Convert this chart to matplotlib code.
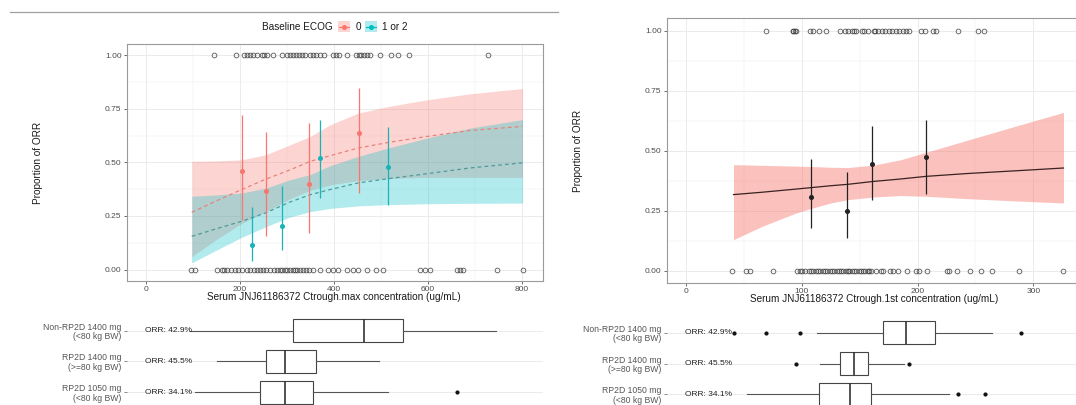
import matplotlib

matplotlib.use("Agg")
import matplotlib.pyplot as plt
from matplotlib.lines import Line2D
from matplotlib.patches import Rectangle
import numpy as np

plt.rcParams["font.family"] = ["Liberation Sans", "DejaVu Sans"]

W, H = 1076, 405

RED = "#F8766D"
TEAL = "#00BFC4"
GRID = "#ebebeb"
BORDER = "#9a9a9a"
TICK_TXT = "#4d4d4d"

# ---- Ctrough.max by baseline ECOG (logistic fit + observed quartile bins) ----
fit_x = [98, 150, 204, 256, 307, 350, 392, 452, 516, 598, 690, 802]
ecog0_fit = [0.267, 0.320, 0.373, 0.422, 0.465, 0.505, 0.531, 0.567, 0.593, 0.621, 0.649, 0.668]
ecog0_lo = [0.060, 0.140, 0.215, 0.270, 0.330, 0.370, 0.395, 0.415, 0.425, 0.430, 0.430, 0.430]
ecog0_hi = [0.505, 0.507, 0.512, 0.536, 0.582, 0.621, 0.675, 0.730, 0.761, 0.792, 0.820, 0.845]
ecog12_fit = [0.155, 0.190, 0.225, 0.265, 0.315, 0.349, 0.373, 0.404, 0.424, 0.447, 0.474, 0.498]
ecog12_lo = [0.031, 0.090, 0.150, 0.200, 0.245, 0.270, 0.285, 0.297, 0.303, 0.307, 0.309, 0.310]
ecog12_hi = [0.342, 0.348, 0.357, 0.380, 0.419, 0.443, 0.484, 0.528, 0.567, 0.613, 0.660, 0.700]

ecog0_bin_x = [204, 256, 348, 454]
ecog0_bin_p = [0.458, 0.365, 0.400, 0.637]
ecog0_bin_lo = [0.233, 0.155, 0.171, 0.357]
ecog0_bin_hi = [0.722, 0.644, 0.686, 0.846]
ecog12_bin_x = [227, 291, 371, 516]
ecog12_bin_p = [0.116, 0.202, 0.520, 0.478]
ecog12_bin_lo = [0.039, 0.090, 0.334, 0.303]
ecog12_bin_hi = [0.292, 0.388, 0.699, 0.663]

cmax_resp = [145, 193, 210, 216, 222, 228, 236, 247, 252, 258, 271, 291, 300, 308,
             314, 320, 326, 333, 340, 349, 357, 363, 370, 379, 399, 404, 411, 428,
             448, 454, 459, 465, 471, 478, 499, 521, 536, 560, 729]
cmax_nonresp = [96, 106, 151, 162, 167, 174, 182, 190, 197, 204, 215, 222, 230, 236,
                243, 250, 257, 264, 272, 279, 286, 291, 296, 301, 307, 313, 318, 323,
                328, 335, 341, 348, 357, 371, 389, 399, 410, 429, 442, 452, 470, 491,
                506, 584, 594, 605, 662, 669, 676, 747, 803]

# ---- Ctrough.1st (overall logistic fit) ----
c1_x = [41, 66, 95, 110, 125, 140, 162, 185, 207, 243, 287, 326]
c1_fit = [0.317, 0.327, 0.340, 0.347, 0.354, 0.360, 0.372, 0.382, 0.393, 0.405, 0.417, 0.428]
c1_lo = [0.129, 0.185, 0.240, 0.262, 0.282, 0.296, 0.307, 0.313, 0.310, 0.300, 0.290, 0.282]
c1_hi = [0.442, 0.439, 0.436, 0.434, 0.431, 0.430, 0.440, 0.462, 0.493, 0.544, 0.606, 0.660]

c1_bin_x = [108, 139, 161, 207]
c1_bin_p = [0.306, 0.250, 0.444, 0.472]
c1_bin_lo = [0.178, 0.136, 0.296, 0.319]
c1_bin_hi = [0.467, 0.411, 0.604, 0.629]

c1_resp = [69, 92, 92, 94, 95, 107, 110, 115, 121, 133, 137, 140, 143, 145, 147,
           152, 154, 157, 162, 163, 166, 169, 172, 175, 178, 181, 184, 187, 190,
           193, 203, 206, 213, 216, 235, 252, 257]
c1_nonresp = [40, 52, 55, 75, 96, 98, 100, 103, 106, 108, 110, 112, 114, 116, 118,
              120, 122, 124, 126, 128, 130, 132, 134, 136, 138, 140, 141, 143, 145,
              147, 149, 151, 153, 155, 157, 158, 160, 164, 168, 170, 176, 179, 183,
              191, 199, 201, 208, 225, 227, 234, 245, 255, 264, 288, 326]

# ---- dose-group distributions (boxplot summaries) ----
groups = ["Non-RP2D 1400 mg\n(<80 kg BW)", "RP2D 1400 mg\n(>=80 kg BW)", "RP2D 1050 mg\n(<80 kg BW)"]
orr_labels = ["ORR: 42.9%", "ORR: 45.5%", "ORR: 34.1%"]

cmax_q1 = [313, 256, 243]
cmax_med = [464, 297, 296]
cmax_q3 = [547, 363, 355]
cmax_wlo = [94, 152, 106]
cmax_whi = [746, 497, 516]
cmax_out = [[], [], [662]]

c1_q1 = [170, 133, 115]
c1_med = [190, 145, 142]
c1_q3 = [215, 157, 160]
c1_wlo = [113, 116, 53]
c1_whi = [264, 188, 227]
c1_out = [[41, 69, 98, 289], [95, 193], [235, 258]]


def px_axes(fig, left, top, right, bottom):
    return fig.add_axes([left / W, 1 - bottom / H, (right - left) / W, (bottom - top) / H])


def fx(x):
    return x / W


def fy(y):
    return 1 - y / H


def style_top(ax, xticks, xminor):
    ax.set_yticks([0, 0.25, 0.5, 0.75, 1.0])
    ax.set_yticklabels(["0.00", "0.25", "0.50", "0.75", "1.00"])
    ax.set_yticks([0.125, 0.375, 0.625, 0.875], minor=True)
    ax.set_xticks(xticks)
    ax.set_xticks(xminor, minor=True)
    ax.grid(True, which="major", color=GRID, lw=0.7, zorder=0)
    ax.grid(True, which="minor", color=GRID, lw=0.35, zorder=0)
    ax.set_axisbelow(True)
    for s in ax.spines.values():
        s.set_color(BORDER)
        s.set_linewidth(0.8)
    ax.tick_params(which="major", length=2.2, width=0.6, color="#555555",
                   labelsize=6, labelcolor=TICK_TXT, pad=1.5)
    ax.tick_params(which="minor", length=0)


def draw_resp_points(ax, resp, nonresp):
    kw = dict(ls="none", marker="o", ms=3.4, mfc="none", mec="#3a3a3a", mew=0.6, alpha=0.85, zorder=5)
    ax.plot(resp, np.ones(len(resp)), **kw)
    ax.plot(nonresp, np.zeros(len(nonresp)), **kw)


def draw_bins(ax, x, p, lo, hi, color, ms=2.6):
    p = np.asarray(p)
    yerr = [p - np.asarray(lo), np.asarray(hi) - p]
    ax.errorbar(x, p, yerr=yerr, fmt="o", ms=ms, color=color, ecolor=color,
                elinewidth=0.9, capsize=0, zorder=4)


def draw_boxes(ax, q1, med, q3, wlo, whi, out, text_x):
    stats = []
    for i in range(len(groups)):
        stats.append(dict(med=med[i], q1=q1[i], q3=q3[i], whislo=wlo[i], whishi=whi[i],
                          fliers=out[i]))
    ax.bxp(stats, positions=[0, 1, 2], widths=0.75, orientation="horizontal",
           showcaps=False, patch_artist=True,
           boxprops=dict(facecolor="white", edgecolor="#444444", lw=0.8),
           medianprops=dict(color="#333333", lw=1.2),
           whiskerprops=dict(color="#555555", lw=0.8),
           flierprops=dict(marker="o", ms=2, mfc="#111111", mec="#111111"))
    for i, t in enumerate(orr_labels):
        ax.text(text_x, i, t, ha="left", va="center", fontsize=6, color="#222222", zorder=6)
    ax.set_yticks([0, 1, 2])
    ax.set_yticklabels(groups, fontsize=6.2, color="#555555", linespacing=1.05)
    ax.tick_params(axis="y", length=2, width=0.6, color="#777777", pad=1.5)
    ax.set_xticks([])
    ax.grid(True, axis="y", color=GRID, lw=0.7)
    ax.set_axisbelow(True)
    for s in ax.spines.values():
        s.set_visible(False)


fig = plt.figure(figsize=(W / 100, H / 100), dpi=100)

# left: Ctrough.max by ECOG
ax1 = px_axes(fig, 126.7, 44.3, 543, 280.5)
ax1.fill_between(fit_x, ecog0_lo, ecog0_hi, color=RED, alpha=0.3, lw=0, zorder=1)
ax1.fill_between(fit_x, ecog12_lo, ecog12_hi, color=TEAL, alpha=0.3, lw=0, zorder=1)
ax1.plot(fit_x, ecog0_fit, ls=(0, (3, 2.5)), color="#e8837b", lw=0.9, zorder=3)
ax1.plot(fit_x, ecog12_fit, ls=(0, (3, 2.5)), color="#4f9a9b", lw=0.9, zorder=3)
draw_bins(ax1, ecog0_bin_x, ecog0_bin_p, ecog0_bin_lo, ecog0_bin_hi, RED)
draw_bins(ax1, ecog12_bin_x, ecog12_bin_p, ecog12_bin_lo, ecog12_bin_hi, "#19b3b8")
draw_resp_points(ax1, cmax_resp, cmax_nonresp)
ax1.set_xlim(-40.4, 845.5)
ax1.set_ylim(-0.0512, 1.0512)
style_top(ax1, [0, 200, 400, 600, 800], [100, 300, 500, 700])

# right: Ctrough.1st overall
ax2 = px_axes(fig, 666.7, 18.3, 1090, 282.5)
ax2.fill_between(c1_x, c1_lo, c1_hi, color=RED, alpha=0.45, lw=0, zorder=1)
ax2.plot(c1_x, c1_fit, color="#3a2222", lw=0.9, zorder=3)
draw_bins(ax2, c1_bin_x, c1_bin_p, c1_bin_lo, c1_bin_hi, "#222222")
draw_resp_points(ax2, c1_resp, c1_nonresp)
ax2.set_xlim(-16.7, 348.9)
ax2.set_ylim(-0.05, 1.053)
style_top(ax2, [0, 100, 200, 300], [50, 150, 250])

# dose-group boxplots under each panel
bx1 = px_axes(fig, 126.7, 310, 543, 420)
draw_boxes(bx1, cmax_q1, cmax_med, cmax_q3, cmax_wlo, cmax_whi, cmax_out, -2)
bx1.set_xlim(-40.4, 845.5)
bx1.set_ylim(2.9, -0.672)

bx2 = px_axes(fig, 666.7, 312, 1090, 420)
draw_boxes(bx2, c1_q1, c1_med, c1_q3, c1_wlo, c1_whi, c1_out, -0.5)
bx2.set_xlim(-16.7, 348.9)
bx2.set_ylim(2.83, -0.672)

# axis titles
lab = dict(fontsize=7.2, color="#1a1a1a")
fig.text(fx(38), fy(162.5), "Proportion of ORR", rotation=90, ha="center", va="center", **lab)
fig.text(fx(577.6), fy(150.6), "Proportion of ORR", rotation=90, ha="center", va="center", **lab)
fig.text(fx(334), fy(297.3), "Serum JNJ61186372 Ctrough.max concentration (ug/mL)",
         ha="center", va="center", **lab)
fig.text(fx(874.3), fy(299.5), "Serum JNJ61186372 Ctrough.1st concentration (ug/mL)",
         ha="center", va="center", **lab)

# legend for ECOG groups
fig.text(fx(261.7), fy(26.7), "Baseline ECOG", ha="left", va="center", fontsize=7.2, color="#1a1a1a")
for x0, col, txt, tx in [(338, RED, "0", 355.5), (365, TEAL, "1 or 2", 381.5)]:
    fig.add_artist(Rectangle((fx(x0), fy(32)), 12 / W, 11 / H, transform=fig.transFigure,
                             facecolor=col, alpha=0.3, lw=0))
    fig.add_artist(Line2D([fx(x0 + 1), fx(x0 + 11)], [fy(26.7), fy(26.7)],
                          transform=fig.transFigure, color=col, lw=0.9))
    fig.add_artist(Line2D([fx(x0 + 6)], [fy(26.7)], transform=fig.transFigure,
                          marker="o", ms=2.6, color=col, ls="none"))
    fig.text(fx(tx), fy(26.7), txt, ha="left", va="center", fontsize=7.2, color="#1a1a1a")

# separator rule above the left panel
fig.add_artist(Line2D([fx(10), fx(558)], [fy(12.3), fy(12.3)], transform=fig.transFigure,
                      color="#a0a0a0", lw=0.9))

fig.savefig("out.png", dpi=100)
